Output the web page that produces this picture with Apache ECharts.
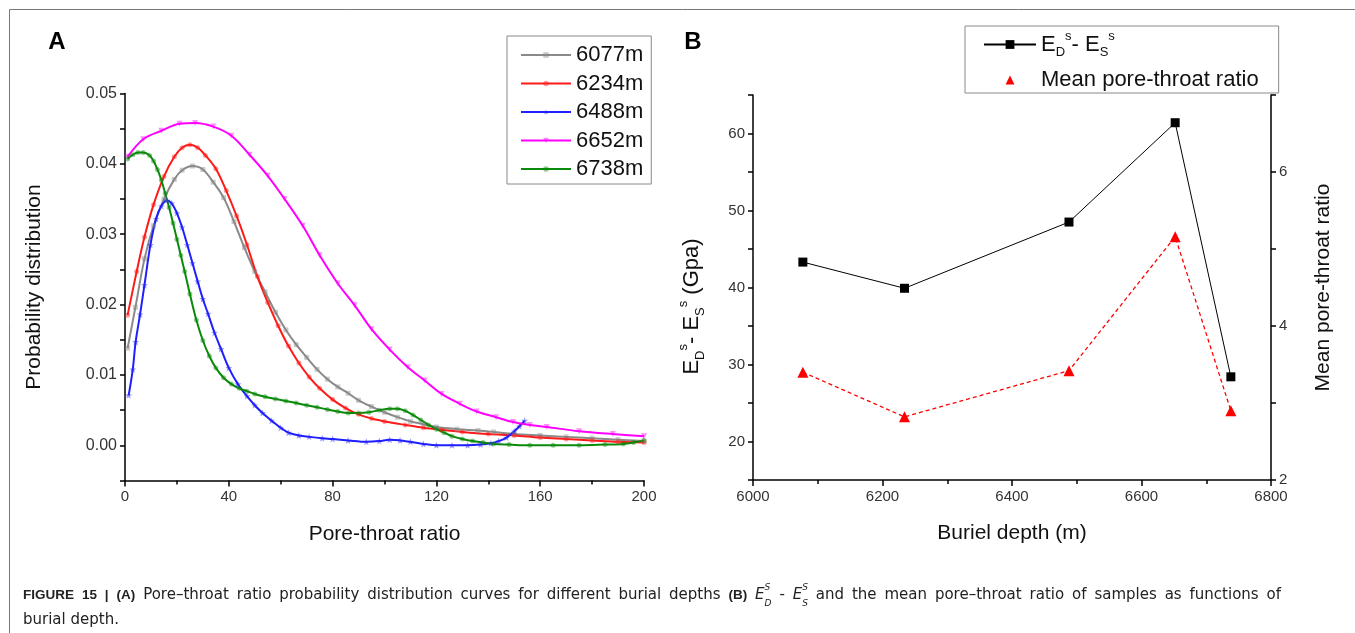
<!DOCTYPE html>
<html>
<head>
<meta charset="utf-8">
<script src="https://cdn.jsdelivr.net/npm/echarts@6/dist/echarts.min.js"></script>
<style>
html,body{margin:0;padding:0;background:#fff;}
#chart{width:1355px;height:633px;}
</style>
</head>
<body>
<div id="chart"></div>
<script>
// ---------- Panel A data: [pore-throat ratio, probability] ----------
const s6077 = [[1,0.0138],[4,0.0196],[7.5,0.0265],[11,0.0312],[15,0.0350],[19,0.0378],[22,0.0391],[26,0.0397],[30,0.0392],[34,0.0374],[38,0.0352],[42,0.0318],[46,0.0281],[50,0.0247],[54,0.0218],[58,0.0189],[62,0.0164],[66,0.0143],[70,0.0125],[74,0.0108],[78,0.0094],[82,0.0083],[86,0.0074],[90,0.0064],[95,0.0055],[100,0.0047],[105,0.0040],[110,0.0034],[115,0.0030],[120,0.0026],[128,0.0023],[136,0.0021],[142,0.0019],[150,0.0016],[160,0.0014],[170,0.0012],[180,0.0010],[190,0.0008],[200,0.0006]];
const s6234 = [[1,0.0185],[4.5,0.0247],[7.5,0.0296],[11,0.0342],[15,0.0382],[19,0.0410],[22,0.0423],[25,0.0427],[28,0.0423],[31,0.0412],[35,0.0393],[39,0.0362],[43,0.0326],[47,0.0285],[51,0.0240],[55,0.0203],[59,0.0170],[63,0.0141],[67,0.0117],[71,0.0097],[75,0.0081],[80,0.0065],[85,0.0053],[90,0.0044],[95,0.0038],[100,0.0034],[108,0.0029],[115,0.0025],[122,0.0022],[130,0.0019],[140,0.0016],[150,0.0014],[160,0.0011],[170,0.0009],[180,0.0007],[190,0.0005],[200,0.0004]];
const s6488 = [[1.4,0.0071],[3,0.0108],[4.1,0.0147],[5.8,0.0186],[7.5,0.0228],[9.8,0.0285],[12,0.0322],[14,0.0340],[16,0.0348],[18,0.0344],[20,0.0330],[22,0.0310],[24,0.0285],[26,0.0259],[28,0.0233],[30,0.0208],[32,0.0187],[34.5,0.0160],[37,0.0137],[40,0.0110],[43.5,0.0087],[47,0.0070],[50,0.0057],[53,0.0046],[56.5,0.0035],[60,0.0025],[63,0.0018],[67,0.0014],[71,0.0012],[76,0.0010],[80,0.0009],[86,0.0007],[93,0.0005],[98,0.0006],[102,0.0008],[106,0.0007],[110,0.0005],[115,0.0002],[120,0.0000],[126,0.0000],[132,0.0000],[137,0.0001],[141,0.0003],[144,0.0006],[147,0.0011],[150,0.0020],[152,0.0027],[154,0.0035]];
const s6652 = [[1,0.0410],[7,0.0435],[14,0.0447],[21,0.0457],[27,0.0458],[34,0.0453],[41,0.0440],[48,0.0413],[55,0.0383],[61.5,0.0350],[68.5,0.0312],[75,0.0270],[82,0.0230],[88.5,0.0199],[95,0.0165],[102,0.0136],[109,0.0111],[115.5,0.0092],[122,0.0073],[129,0.0059],[135.5,0.0048],[143,0.0040],[149.5,0.0033],[156,0.0029],[162.5,0.0026],[175,0.0020],[188,0.0016],[200,0.0013]];
const s6738 = [[1,0.0407],[3,0.0413],[5,0.0416],[7,0.0416],[9.5,0.0412],[11,0.0404],[12.5,0.0392],[14,0.0377],[15.5,0.0358],[17,0.0338],[18.5,0.0316],[20,0.0293],[21.5,0.0270],[23,0.0247],[25,0.0215],[27.5,0.0178],[30,0.0149],[32.5,0.0127],[35,0.0110],[38,0.0096],[41,0.0087],[44,0.0081],[47,0.0077],[50,0.0073],[54,0.0069],[58,0.0066],[62,0.0063],[66,0.0060],[70,0.0057],[74,0.0054],[78,0.0051],[82,0.0048],[86,0.0046],[90,0.0046],[94,0.0047],[98,0.0050],[102,0.0052],[105,0.0052],[108,0.0049],[111,0.0043],[114,0.0036],[117,0.0029],[120,0.0023],[123,0.0018],[126,0.0013],[130,0.0009],[134,0.0006],[138,0.0004],[142,0.0002],[148,0.0001],[156,0.0000],[165,0.0000],[175,0.0000],[185,0.0001],[192,0.0002],[196,0.0004],[200,0.0007]];
const seriesNamesA = ['6077m','6234m','6488m','6652m','6738m'];

// ---------- Panel B data ----------
const depths = [6077, 6234, 6488, 6652, 6738];
const edMinusEs = [43.3, 39.9, 48.5, 61.4, 28.4];
const meanPTR = [3.40, 2.82, 3.42, 5.16, 2.90];

const FONT = "'Liberation Sans', Arial, sans-serif";
const CAP_REG = "'DejaVu Sans', 'Liberation Sans', sans-serif";
const CAP_BOLD = "'Liberation Sans', Arial, sans-serif";
const chart = echarts.init(document.getElementById('chart'), null, {renderer:'canvas'});

const starPath = 'path://M0,-10L2.6,-3.2L9.5,-3.1L4.1,1.3L6,8.1L0,4.2L-6,8.1L-4.1,1.3L-9.5,-3.1L-2.6,-3.2Z';
const stylesA = [
  {color:'#8a8a8a', symbol:'rect', size:5},
  {color:'#ff1a1a', symbol:'circle', size:5},
  {color:'#1f1fff', symbol:starPath, size:7},
  {color:'#ff00ff', symbol:'triangle', size:6, rotate:180},
  {color:'#0a8a0a', symbol:'circle', size:5}
];
const dataA = [s6077, s6234, s6488, s6652, s6738];

const seriesA = dataA.map((d, i) => ({
  name: seriesNamesA[i], type:'line', xAxisIndex:0, yAxisIndex:0,
  data: d, smooth:0.35, symbol: stylesA[i].symbol, symbolSize: stylesA[i].size,
  symbolRotate: stylesA[i].rotate || 0, showSymbol:true, showAllSymbol:true,
  lineStyle:{color:stylesA[i].color, width:2},
  itemStyle:{color:stylesA[i].color, opacity:0.45},
  emphasis:{disabled:true}, animation:false, z: 2
}));

// ---------- caption (justified first line) ----------
const CAP_SIZE = 15, CAP_BSIZE = 13.5;
const capFonts = {
  b: 'bold ' + CAP_BSIZE + 'px ' + CAP_BOLD,
  n: CAP_SIZE + 'px ' + CAP_REG,
  i: 'italic ' + CAP_SIZE + 'px ' + CAP_REG,
  s: 'italic 9px ' + CAP_REG
};
const mctx = document.createElement('canvas').getContext('2d');
function mw(font, t){ mctx.font = font; return mctx.measureText(t).width; }
const capLine1 = [['b','FIGURE'],['b','15'],['b','|'],['b','(A)'],['n','Pore\u2013throat'],['n','ratio'],['n','probability'],['n','distribution'],['n','curves'],['n','for'],['n','different'],['n','burial'],['n','depths'],['b','(B)'],['E','D'],['n','-'],['E','S'],['n','and'],['n','the'],['n','mean'],['n','pore\u2013throat'],['n','ratio'],['n','of'],['n','samples'],['n','as'],['n','functions'],['n','of']];
const CAP_X0 = 23, CAP_X1 = 1281;
let natural = 0;
capLine1.forEach(([t, w]) => {
  natural += (t === 'E') ? (mw(capFonts.i,'E') + mw(capFonts.s, w)) : mw(capFonts[t], w);
});
const gapW = Math.max(3, (CAP_X1 - CAP_X0 - natural) / (capLine1.length - 1));
let capText = capLine1.map(([t, w]) => t === 'E' ? '{i|E}{sp|S}{sb|' + w + '}' : '{' + t + '|' + w + '}').join('{g|\u00a0}');
capText += '\n{n|burial depth.}';

const axisLineStyle = {color:'#000', width:1.5};
const labelStyle = {color:'#333', fontSize:15, fontFamily:FONT};
const nameStyle = {color:'#111', fontSize:21, fontFamily:FONT};
const subSup = {
  sub:{fontSize:13, color:'#111', fontFamily:FONT, verticalAlign:'bottom', lineHeight:14},
  sup:{fontSize:13, color:'#111', fontFamily:FONT, verticalAlign:'top', lineHeight:14}
};

const option = {
  animation:false,
  textStyle:{fontFamily:FONT},
  grid:[
    {left:125, top:93.5, width:519, height:387, outerBoundsMode:'none', containLabel:false},
    {left:753, top:95, width:518, height:385, outerBoundsMode:'none', containLabel:false}
  ],
  xAxis:[
    {gridIndex:0, type:'value', min:0, max:200, interval:40,
     axisLine:{onZero:false, lineStyle:axisLineStyle},
     axisTick:{inside:false, length:6, lineStyle:axisLineStyle},
     minorTick:{show:true, splitNumber:2, length:4, lineStyle:{color:'#000', width:1.5}},
     splitLine:{show:false}, minorSplitLine:{show:false},
     axisLabel:Object.assign({margin:9, formatter:v => String(v)}, labelStyle),
     name:'Pore-throat ratio', nameLocation:'middle', nameGap:43, nameTextStyle:nameStyle},
    {gridIndex:1, type:'value', min:6000, max:6800, interval:200,
     axisLine:{onZero:false, lineStyle:axisLineStyle},
     axisTick:{inside:false, length:6, lineStyle:axisLineStyle},
     minorTick:{show:true, splitNumber:2, length:4, lineStyle:{color:'#000', width:1.5}},
     splitLine:{show:false}, minorSplitLine:{show:false},
     axisLabel:Object.assign({margin:9, formatter:v => String(v)}, labelStyle),
     name:'Buriel depth (m)', nameLocation:'middle', nameGap:43, nameTextStyle:nameStyle}
  ],
  yAxis:[
    {gridIndex:0, type:'value', min:-0.005, max:0.05, interval:0.005,
     axisLine:{show:true, onZero:false, lineStyle:axisLineStyle},
     axisTick:{show:true, inside:false, length:5, lineStyle:axisLineStyle},
     splitLine:{show:false},
     axisLabel:Object.assign({margin:8, formatter:v => (Math.round(v*200) % 2 === 0) ? v.toFixed(2) : ''}, labelStyle, {fontSize:16}),
     name:'Probability distribution', nameLocation:'middle', nameGap:80, nameRotate:90, nameTextStyle:nameStyle},
    {gridIndex:1, type:'value', min:15, max:65, interval:5, position:'left',
     axisLine:{show:true, onZero:false, lineStyle:axisLineStyle},
     axisTick:{show:true, inside:false, length:5, lineStyle:axisLineStyle},
     splitLine:{show:false},
     axisLabel:Object.assign({margin:8, formatter:v => (Math.round(v) % 10 === 0) ? String(v) : ''}, labelStyle),
     name:'{e|E}{sub|D}{sup|s}{e|- E}{sub|S}{sup|s}{e| (Gpa)}', nameLocation:'middle', nameGap:46, nameRotate:90,
     nameTextStyle:{color:'#111', fontSize:21, fontFamily:FONT, padding:[0,38,0,0],
       rich:Object.assign({e:{fontSize:22, color:'#111', fontFamily:FONT, lineHeight:30}}, subSup)}},
    {gridIndex:1, type:'value', min:2, max:7, interval:1, position:'right',
     axisLine:{show:true, onZero:false, lineStyle:axisLineStyle},
     axisTick:{show:true, inside:false, length:5, lineStyle:axisLineStyle},
     splitLine:{show:false},
     axisLabel:Object.assign({margin:8, formatter:v => (Math.round(v) % 2 === 0) ? String(v) : ''}, labelStyle),
     name:'Mean pore-throat ratio', nameLocation:'middle', nameGap:42, nameRotate:90, nameTextStyle:nameStyle}
  ],
  legend:[
    {show:true, orient:'vertical', left:507, top:36, itemWidth:50, itemHeight:7, itemGap:4.5,
     padding:[7,8,3,13], borderColor:'#8a8a8a', borderWidth:1, backgroundColor:'#fff',
     data:seriesNamesA, selectedMode:false,
     textStyle:{fontSize:22, color:'#111', fontFamily:FONT, lineHeight:24}},
    {show:true, orient:'vertical', left:965, top:26, itemWidth:52, itemHeight:11, itemGap:10,
     padding:[4,20,2,18], borderColor:'#8a8a8a', borderWidth:1, backgroundColor:'#fff',
     selectedMode:false,
     data:[{name:'EDES'}, {name:'Mean pore-throat ratio', lineStyle:{opacity:0, width:0}}],
     formatter: n => n === 'EDES' ? '{e|E}{sub|D}{sup|s}{e|- E}{sub|S}{sup|s}' : '{e|' + n + '}',
     textStyle:{fontSize:22, color:'#111', fontFamily:FONT,
       rich:Object.assign({e:{fontSize:22, color:'#111', fontFamily:FONT, lineHeight:29}}, subSup)}}
  ],
  series: seriesA.concat([
    {name:'EDES', type:'line', xAxisIndex:1, yAxisIndex:1,
     data: depths.map((d,i)=>[d, edMinusEs[i]]),
     symbol:'rect', symbolSize:9, lineStyle:{color:'#000', width:1},
     itemStyle:{color:'#000'}, emphasis:{disabled:true}},
    {name:'Mean pore-throat ratio', type:'line', xAxisIndex:1, yAxisIndex:2,
     data: depths.map((d,i)=>[d, meanPTR[i]]),
     symbol:'triangle', symbolSize:11, lineStyle:{color:'#ff0000', width:1.3, type:[4,3]},
     itemStyle:{color:'#ff0000'}, emphasis:{disabled:true}}
  ]),
  graphic:[
    {type:'line', shape:{x1:9.5, y1:9.5, x2:1355, y2:9.5}, style:{stroke:'#777', lineWidth:1}, silent:true},
    {type:'line', shape:{x1:9.5, y1:9.5, x2:9.5, y2:633}, style:{stroke:'#777', lineWidth:1}, silent:true},
    {type:'text', x:57, y:42, style:{text:'A', fontSize:24, fontWeight:'bold', fontFamily:FONT, fill:'#000', align:'center', verticalAlign:'middle'}, silent:true},
    {type:'text', x:693, y:42, style:{text:'B', fontSize:24, fontWeight:'bold', fontFamily:FONT, fill:'#000', align:'center', verticalAlign:'middle'}, silent:true},
    {type:'text', x:CAP_X0, y:583, silent:true, style:{
      text: capText,
      fill:'#222', fontSize:CAP_SIZE, fontFamily:CAP_REG, lineHeight:25,
      rich:{
        b:{fontSize:CAP_BSIZE, fontWeight:'bold', fontFamily:CAP_BOLD, fill:'#222', lineHeight:25},
        n:{fontSize:CAP_SIZE, fontFamily:CAP_REG, fill:'#222', lineHeight:25},
        i:{fontSize:CAP_SIZE, fontStyle:'italic', fontFamily:CAP_REG, fill:'#222', lineHeight:25},
        g:{fontSize:CAP_SIZE, fontFamily:CAP_REG, width:gapW, lineHeight:25},
        sp:{fontSize:9, fontStyle:'italic', fontFamily:CAP_REG, fill:'#222', verticalAlign:'top', lineHeight:18, width:0},
        sb:{fontSize:9, fontStyle:'italic', fontFamily:CAP_REG, fill:'#222', verticalAlign:'bottom', lineHeight:18}
      }}}
  ]
};
chart.setOption(option);
</script>
</body>
</html>
